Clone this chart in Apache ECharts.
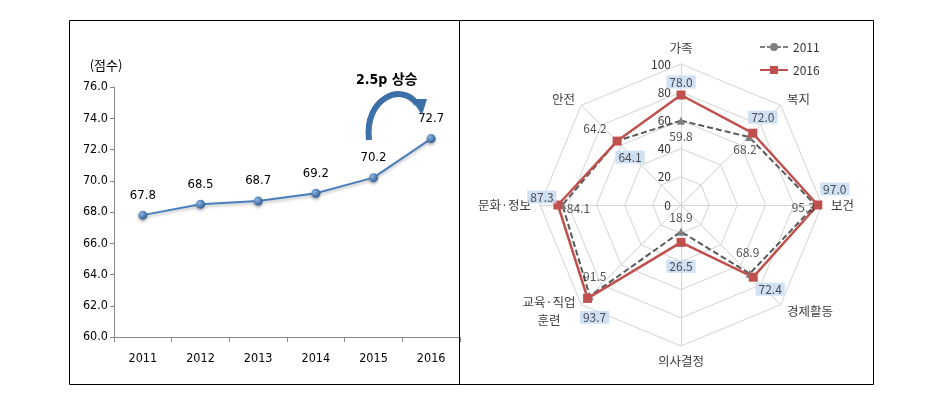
<!DOCTYPE html>
<html>
<head>
<meta charset="utf-8">
<script src="https://cdn.jsdelivr.net/npm/echarts@6/dist/echarts.min.js"></script>
<style>html,body{margin:0;padding:0;background:#fff}#c{width:943px;height:408px}</style>
</head>
<body>
<div id="c"></div>
<script>
// ---- data ----
const years = ['2011', '2012', '2013', '2014', '2015', '2016'];
const scores = [67.8, 68.5, 68.7, 69.2, 70.2, 72.7];
const yMin = 60, yMax = 76, yStep = 2;

// radar indicators (counter-clockwise from top, ECharts radar order)
const indicators = ['가족', '안전', '문화·정보', '교육·직업\n훈련', '의사결정', '경제활동', '보건', '복지'];
const values2011 = [59.8, 64.2, 84.1, 91.5, 18.9, 68.9, 95.3, 68.2];
const values2016 = [78.0, 64.1, 87.3, 93.7, 26.5, 72.4, 97.0, 72.0];
const rMin = 0, rMax = 100, rStep = 20;
const seriesNames = ['2011', '2016'];

// label layout offsets (px) for value labels
const off2016 = [[0,-13],[13,16],[-16,-8],[7,19],[0,24],[17,12],[17,-16],[10,-16]];
const off2011 = [[0,16],[-22,-13],[16,3],[5,-20],[0,-14],[-2,-21],[-12,2],[-4,12]];

const narrow = '"Liberation Sans Narrow","DejaVu Sans Condensed","Noto Sans CJK KR",sans-serif';
const kr = '"Noto Sans CJK KR","Noto Sans",sans-serif';

const chart = echarts.init(document.getElementById('c'), null, {renderer: 'canvas'});

function labelItems(vals) {
  return vals.map((v, i) => [v, indicators[i]]);
}
function shift(offs) {
  return p => ({dx: offs[p.dataIndex][0], dy: offs[p.dataIndex][1], hideOverlap: false});
}

const option = {
  animation: false,
  backgroundColor: '#fff',
  grid: {left: 114, top: 87, width: 346, height: 250},
  xAxis: {
    type: 'category', data: years, boundaryGap: true,
    axisLine: {lineStyle: {color: '#888', width: 1}},
    axisTick: {show: true, length: 5, lineStyle: {color: '#888'}},
    axisLabel: {color: '#000', fontFamily: narrow, fontSize: 12.5, margin: 15}
  },
  yAxis: {
    type: 'value', min: yMin, max: yMax, interval: yStep,
    name: '(점수)', nameLocation: 'end', nameGap: 15,
    nameTextStyle: {color: '#000', fontFamily: kr, fontSize: 13, align: 'center', padding: [0, 16, 0, 0]},
    axisLine: {show: true, lineStyle: {color: '#888'}},
    axisTick: {show: true, length: 4, inside: false, lineStyle: {color: '#888'}},
    splitLine: {show: false},
    axisLabel: {color: '#000', fontFamily: narrow, fontSize: 12.5, margin: 6,
      formatter: v => v.toFixed(1)}
  },
  radar: {
    center: [681, 205], radius: 141, startAngle: 90,
    shape: 'polygon', splitNumber: 5,
    indicator: indicators.map(n => ({name: n, min: rMin, max: rMax})),
    nameGap: 9,
    axisName: {
      color: '#404040', fontFamily: kr, fontSize: 12.5,
      formatter: n => n.indexOf('\n') >= 0 ? n.split('\n').map(s => '{c|' + s + '}').join('\n') : n,
      rich: {c: {width: 52, align: 'center', color: '#404040', fontFamily: kr, fontSize: 12.5, lineHeight: 18}}
    },
    axisLine: {lineStyle: {color: '#d4d4d4', width: 1}},
    splitLine: {lineStyle: {color: '#d4d4d4', width: 1}},
    splitArea: {show: false},
    axisTick: {show: false},
    axisLabel: {show: false}
  },
  polar: {center: [681, 205], radius: 141},
  angleAxis: {
    type: 'category', data: indicators, startAngle: 90, clockwise: false, boundaryGap: false,
    axisLine: {show: false}, axisTick: {show: false}, axisLabel: {show: false}, splitLine: {show: false}
  },
  radiusAxis: {
    type: 'value', min: rMin, max: rMax, interval: rStep,
    axisLine: {show: false}, axisTick: {show: false}, splitLine: {show: false},
    axisLabel: {show: true, color: '#333', fontFamily: kr, fontSize: 12, margin: 10}
  },
  legend: {
    orient: 'vertical', left: 755, top: 36, itemWidth: 28, itemHeight: 8, itemGap: 11,
    textStyle: {color: '#333', fontFamily: kr, fontSize: 12},
    data: [
      {name: seriesNames[0], icon: 'path://M0,3h5v2h-5z M7,3h3v2h-3z M10,4a4,4 0 1,0 8,0a4,4 0 1,0 -8,0z M18,3h3v2h-3z M23,3h5v2h-5z'},
      {name: seriesNames[1], icon: 'path://M0,3h10v2h-10z M10,0h8v8h-8z M18,3h10v2h-10z'}
    ]
  },
  series: [
    {
      type: 'line', name: '점수', data: scores,
      symbol: 'circle', symbolSize: 9,
      lineStyle: {color: '#4a7ebb', width: 2, shadowColor: 'rgba(0,0,0,0.25)', shadowBlur: 3, shadowOffsetY: 2},
      itemStyle: {
        color: new echarts.graphic.RadialGradient(0.35, 0.35, 0.7, [
          {offset: 0, color: '#8fb4e3'}, {offset: 1, color: '#2c5d96'}]),
        shadowColor: 'rgba(0,0,0,0.3)', shadowBlur: 3, shadowOffsetY: 2
      },
      label: {show: true, position: 'top', distance: 9, color: '#000', fontFamily: narrow, fontSize: 13,
        formatter: p => p.value.toFixed(1)}
    },
    {
      type: 'radar',
      data: [
        {
          name: seriesNames[0], value: values2011,
          symbol: 'triangle', symbolSize: 8,
          lineStyle: {color: '#595959', width: 2, type: [6, 3]},
          itemStyle: {color: '#7f7f7f'}
        },
        {
          name: seriesNames[1], value: values2016,
          symbol: 'rect', symbolSize: 9,
          lineStyle: {color: '#c0504d', width: 2.5},
          itemStyle: {color: '#c0504d'}
        }
      ]
    },
    {
      type: 'scatter', coordinateSystem: 'polar', name: 'lab2011', z: 5,
      symbolSize: 2, itemStyle: {color: 'rgba(0,0,0,0)'}, silent: true,
      data: labelItems(values2011),
      label: {show: true, position: 'inside', color: '#262626', fontFamily: kr, fontSize: 12,
        formatter: p => p.value[0].toFixed(1)},
      labelLayout: shift(off2011)
    },
    {
      type: 'scatter', coordinateSystem: 'polar', name: 'lab2016', z: 5,
      symbolSize: 2, itemStyle: {color: 'rgba(0,0,0,0)'}, silent: true,
      data: labelItems(values2016),
      label: {show: true, position: 'inside', color: '#262626', fontFamily: kr, fontSize: 12,
        backgroundColor: '#c6d9f1', padding: [1, 3, 0, 3],
        formatter: p => p.value[0].toFixed(1)},
      labelLayout: shift(off2016)
    }
  ],
  graphic: [
    {type: 'rect', shape: {x: 69.5, y: 20.5, width: 390, height: 364}, style: {fill: 'none', stroke: '#000', lineWidth: 1}, z: 100},
    {type: 'rect', shape: {x: 459.5, y: 20.5, width: 414, height: 364}, style: {fill: 'none', stroke: '#000', lineWidth: 1}, z: 100},
    {type: 'text', left: 356, top: 73, style: {text: '2.5p 상승', fill: '#000', font: 'bold 14px ' + narrow}, z: 100},
    {type: 'bezierCurve', shape: {x1: 369, y1: 140, cpx1: 364, cpy1: 98, cpx2: 402, cpy2: 82, x2: 417, y2: 104},
      style: {stroke: '#3d6fa8', lineWidth: 6, fill: 'none'}, z: 100},
    {type: 'polygon', shape: {points: [[411, 99], [427, 99], [422, 115]]}, style: {fill: '#3d6fa8'}, z: 100}
  ]
};
chart.setOption(option);
</script>
</body>
</html>
